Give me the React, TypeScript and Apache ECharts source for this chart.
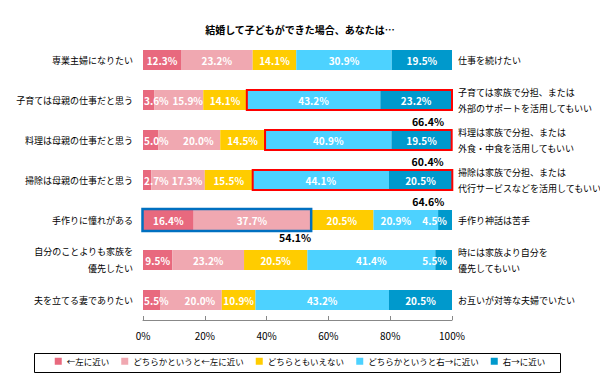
import React, { useEffect, useRef } from "react";
import * as echarts from "echarts";

const titleText = "結婚して子どもができた場合、あなたは…";

const leftLabels = [
  "専業主婦になりたい",
  "子育ては母親の仕事だと思う",
  "料理は母親の仕事だと思う",
  "掃除は母親の仕事だと思う",
  "手作りに憧れがある",
  "自分のことよりも家族を\n優先したい",
  "夫を立てる妻でありたい",
];

const rightLabels = [
  "仕事を続けたい",
  "子育ては家族で分担、または\n外部のサポートを活用してもいい",
  "料理は家族で分担、または\n外食・中食を活用してもいい",
  "掃除は家族で分担、または\n代行サービスなどを活用してもいい",
  "手作り神話は苦手",
  "時には家族より自分を\n優先してもいい",
  "お互いが対等な夫婦でいたい",
];

const seriesNames = [
  "←左に近い",
  "どちらかというと←左に近い",
  "どちらともいえない",
  "どちらかというと右→に近い",
  "右→に近い",
];

const leftMost = [12.3, 3.6, 5.0, 2.7, 16.4, 9.5, 5.5];
const leftish = [23.2, 15.9, 20.0, 17.3, 37.7, 23.2, 20.0];
const neutral = [14.1, 14.1, 14.5, 15.5, 20.5, 20.5, 10.9];
const rightish = [30.9, 43.2, 40.9, 44.1, 20.9, 41.4, 43.2];
const rightMost = [19.5, 23.2, 19.5, 20.5, 4.5, 5.5, 20.5];

const xTicks = [0, 20, 40, 60, 80, 100];

// highlighted groups: row index and which side ("right" = last two, "left" = first two)
const highlightRows = [1, 2, 3, 4];
const highlightSides = ["right", "right", "right", "left"];

const colors = ["#E8697E", "#F0A8B1", "#FFCC00", "#4DD2FF", "#0099CC"];
const FONT = '"Noto Sans CJK JP", "Noto Sans", sans-serif';

export default function App() {
  const ref = useRef<HTMLDivElement>(null);

  useEffect(() => {
    document.body.style.margin = "0";
    if (!ref.current) return;
    const chart = echarts.init(ref.current, undefined, { renderer: "svg" });

    const allSeries = [leftMost, leftish, neutral, rightish, rightMost];

    const barSeries = allSeries.map((vals, si) => ({
      name: seriesNames[si],
      type: "bar",
      stack: "total",
      barWidth: 20,
      itemStyle: { color: colors[si] },
      label: {
        show: true,
        position: "inside",
        color: "#fff",
        fontSize: 10,
        fontWeight: "bold",
        fontFamily: FONT,
        formatter: (p: any) => Number(p.value).toFixed(1) + "%",
      },
      data: vals.map((v, ri) => {
        if (si === 0 && v < 6) {
          return { value: v, label: { position: "insideLeft", distance: 1 } };
        }
        if (si === 1 && leftMost[ri] < 6) {
          return { value: v, label: { offset: [9, 0] } };
        }
        if (si === 3 && rightMost[ri] < 6 && v < 25) {
          return { value: v, label: { offset: [-10, 0] } };
        }
        if (si === 4 && v < 6) {
          return { value: v, label: { position: "insideRight", distance: 5 } };
        }
        return v;
      }),
    }));

    const boxData = highlightRows.map((row, i) => {
      const side = highlightSides[i];
      const before = leftMost[row] + leftish[row] + neutral[row];
      if (side === "left") {
        return [0, leftMost[row] + leftish[row], row];
      }
      return [before, before + rightish[row] + rightMost[row], row];
    });
    const boxSums = highlightRows.map((row, i) =>
      highlightSides[i] === "left"
        ? leftMost[row] + leftish[row]
        : rightish[row] + rightMost[row]
    );

    const option: any = {
      animation: false,
      backgroundColor: "#fff",
      title: {
        text: titleText,
        left: "center",
        top: 19,
        textStyle: { fontSize: 10, fontWeight: "bold", color: "#000", fontFamily: FONT },
      },
      legend: {
        data: seriesNames,
        left: "center",
        top: 357,
        padding: 0,
        itemWidth: 7,
        itemHeight: 7,
        itemGap: 12,
        icon: "rect",
        textStyle: { fontSize: 8.5, color: "#000", fontFamily: FONT },
      },
      graphic: [
        {
          type: "rect",
          shape: { x: 34.5, y: 353.5, width: 526, height: 19 },
          style: { fill: "none", stroke: "#000", lineWidth: 1 },
          silent: true,
        },
      ],
      grid: {
        left: 143,
        right: 148,
        top: 40,
        bottom: 70,
        containLabel: false,
        outerBoundsMode: "none",
      },
      xAxis: {
        type: "value",
        min: xTicks[0],
        max: xTicks[xTicks.length - 1],
        interval: 20,
        axisLine: { show: true, lineStyle: { color: "#888" } },
        axisTick: { show: true, inside: true, length: 4, lineStyle: { color: "#888" } },
        splitLine: { show: false },
        axisLabel: {
          formatter: "{value}%",
          fontSize: 10,
          color: "#000",
          margin: 10,
          fontFamily: FONT,
        },
      },
      yAxis: [
        {
          type: "category",
          inverse: true,
          data: leftLabels,
          axisLine: { show: false },
          axisTick: { show: false },
          axisLabel: {
            fontSize: 9,
            color: "#000",
            margin: 10,
            lineHeight: 17,
            fontFamily: FONT,
          },
        },
        {
          type: "category",
          inverse: true,
          position: "right",
          data: rightLabels,
          axisLine: { show: false },
          axisTick: { show: false },
          axisLabel: {
            fontSize: 9,
            color: "#000",
            margin: 6,
            lineHeight: 16,
            align: "left",
            fontFamily: FONT,
          },
        },
      ],
      series: [
        ...barSeries,
        {
          type: "custom",
          name: "highlight",
          xAxisIndex: 0,
          yAxisIndex: 0,
          clip: false,
          z: 10,
          encode: { x: [0, 1], y: 2 },
          data: boxData,
          renderItem: (params: any, api: any) => {
            const i = params.dataIndex;
            const isLeft = highlightSides[i] === "left";
            const p0 = api.coord([api.value(0), api.value(2)]);
            const p1 = api.coord([api.value(1), api.value(2)]);
            const half = isLeft ? 11 : 10;
            const x0 = p0[0] - (isLeft ? 0.5 : 0);
            const x1 = p1[0] + (isLeft ? 1 : 0);
            return {
              type: "group",
              children: [
                {
                  type: "rect",
                  shape: { x: x0, y: p0[1] - half, width: x1 - x0, height: half * 2 },
                  style: {
                    fill: "none",
                    stroke: isLeft ? "#0070C0" : "#FF0000",
                    lineWidth: isLeft ? 2.5 : 2,
                  },
                },
                {
                  type: "text",
                  x: isLeft ? x1 : x1 - 8,
                  y: p0[1] + (isLeft ? 17 : 21),
                  style: {
                    text: boxSums[i].toFixed(1) + "%",
                    fill: "#000",
                    align: "right",
                    verticalAlign: "middle",
                    font: `bold 10.5px ${FONT}`,
                  },
                },
              ],
            };
          },
        },
      ],
    };

    chart.setOption(option);
    return () => chart.dispose();
  }, []);

  return <div ref={ref} style={{ width: 600, height: 390 }} />;
}
